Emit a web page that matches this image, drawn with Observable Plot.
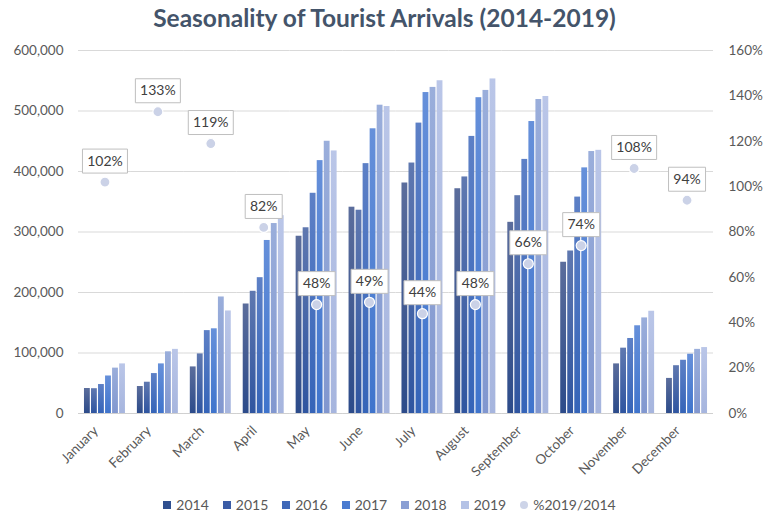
<!DOCTYPE html>
<html>
<head>
<meta charset="utf-8">
<script src="https://cdn.jsdelivr.net/npm/d3@7"></script>
<script src="https://cdn.jsdelivr.net/npm/@observablehq/plot@0.6"></script>
<style>
  body { margin: 0; background: #fff; font-family: Lato, "Open Sans", sans-serif; }
  #wrap { width: 769px; }
  #title { height: 36px; line-height: 36px; text-align: center; font-size: 24.5px; font-weight: bold; color: #44546a; }
  #legend { height: 25px; display: flex; justify-content: center; align-items: center; gap: 14px; font-size: 14px; color: #595959; padding-left: 10px; }
  .item { display: flex; align-items: center; gap: 5px; }
  .sw { width: 8px; height: 8px; display: inline-block; }
  .dotsw { width: 8px; height: 8px; border-radius: 50%; background: #cdd4e8; display: inline-block; }
</style>
</head>
<body>
<div id="wrap">
  <div id="title">Seasonality of Tourist Arrivals (2014-2019)</div>
  <div id="chart"></div>
  <div id="legend"></div>
</div>
<script>
const months = ["January","February","March","April","May","June","July","August","September","October","November","December"];
const years = ["2014","2015","2016","2017","2018","2019"];
const v2014 = [41300, 44600, 77000, 181000, 293000, 341000, 381000, 371500, 316000, 250000, 82000, 58000];
const v2015 = [41000, 51700, 98500, 202000, 307000, 336000, 414000, 391000, 360000, 268600, 108000, 79000];
const v2016 = [47900, 66000, 137000, 224500, 364000, 413000, 480000, 458000, 420000, 357700, 124000, 88000];
const v2017 = [62000, 82000, 140000, 286000, 418000, 470600, 530500, 522000, 482600, 406000, 145000, 98000];
const v2018 = [75000, 102000, 192600, 314000, 450000, 509600, 539000, 534000, 519000, 433000, 158000, 106000];
const v2019 = [82000, 106000, 169500, 327000, 434000, 507400, 550000, 553000, 524000, 435000, 169000, 109000];
const pctChange = [102, 133, 119, 82, 48, 49, 44, 48, 66, 74, 108, 94];
const leftTicks = [0, 100000, 200000, 300000, 400000, 500000, 600000];
const rightTicks = [0, 20, 40, 60, 80, 100, 120, 140, 160];

const series = [v2014, v2015, v2016, v2017, v2018, v2019];
const bars = [];
years.forEach((y, i) => months.forEach((m, j) => bars.push({month: m, year: y, value: series[i][j]})));
const pctData = months.map((m, j) => ({month: m, pct: pctChange[j], label: pctChange[j] + "%"}));

const Y_MAX = 600000, P_MAX = 160;
const toY = p => p * Y_MAX / P_MAX;

const grad = {
  "2014": ["#5b6d9c", "#2c4b8a"],
  "2015": ["#5f78b0", "#2f55a0"],
  "2016": ["#5d80c6", "#3564b8"],
  "2017": ["#6690da", "#3f74cc"],
  "2018": ["#9aaedb", "#8197cf"],
  "2019": ["#bac6e8", "#a6b5de"]
};
const swatch = {"2014":"#2f4f8f","2015":"#3b5ca6","2016":"#3f68b8","2017":"#4a7bd0","2018":"#8a9fd4","2019":"#b4c2e6"};

const boxSym = w => ({draw(ctx) { ctx.rect(-w/2, -12, w, 24); }});

const svg = Plot.plot({
  width: 769,
  height: 456,
  marginLeft: 78,
  marginRight: 56,
  marginTop: 14,
  marginBottom: 79,
  style: {fontFamily: "Lato, 'Open Sans', sans-serif", fontSize: "13.5px", color: "#595959", background: "#fff"},
  fx: {domain: months, padding: 0, round: false},
  x: {domain: years, paddingInner: 0.17, paddingOuter: 0.85, round: false, axis: null},
  y: {domain: [0, Y_MAX]},
  color: {domain: years, range: years.map(y => `url(#g${y})`)},
  marks: [
    Plot.gridY(leftTicks, {stroke: "#d9d9d9", strokeOpacity: 1}),
    Plot.ruleY([0], {stroke: "#d0d0d0"}),
    Plot.barY(bars, {fx: "month", x: "year", y: "value", fill: "year"}),
    Plot.dot(pctData, {fx: "month", y: d => toY(d.pct), r: 5, fill: "#cbd2e7", stroke: "#fff", strokeWidth: 1.2}),
    Plot.dot(pctData.filter(d => d.label.length > 3), {fx: "month", y: d => toY(d.pct), dy: -21, symbol: boxSym(45), fill: "#fff", stroke: "#bfbfbf", strokeWidth: 1}),
    Plot.dot(pctData.filter(d => d.label.length <= 3), {fx: "month", y: d => toY(d.pct), dy: -21, symbol: boxSym(37), fill: "#fff", stroke: "#bfbfbf", strokeWidth: 1}),
    Plot.text(pctData, {fx: "month", y: d => toY(d.pct), dy: -21, text: "label", fill: "#404040", fontSize: 14}),
    Plot.axisY(leftTicks, {anchor: "left", tickSize: 0, tickPadding: 15, tickFormat: d3.format(","), label: null}),
    Plot.axisY(rightTicks.map(toY), {anchor: "right", tickSize: 0, tickPadding: 15, tickFormat: d => Math.round(d * P_MAX / Y_MAX) + "%", label: null}),
    Plot.axisFx({anchor: "bottom", tickRotate: -45, tickSize: 0, tickPadding: 15, dx: -9, label: null})
  ]
});

const defs = d3.select(svg).insert("defs", ":first-child");
years.forEach(y => {
  const g = defs.append("linearGradient").attr("id", "g" + y).attr("x1", 0).attr("y1", 0).attr("x2", 0).attr("y2", 1);
  g.append("stop").attr("offset", "0%").attr("stop-color", grad[y][0]);
  g.append("stop").attr("offset", "100%").attr("stop-color", grad[y][1]);
});

document.getElementById("chart").appendChild(svg);

const legend = document.getElementById("legend");
years.forEach(y => {
  const it = document.createElement("div"); it.className = "item";
  const s = document.createElement("span"); s.className = "sw"; s.style.background = swatch[y];
  const t = document.createElement("span"); t.textContent = y;
  it.appendChild(s); it.appendChild(t); legend.appendChild(it);
});
{
  const it = document.createElement("div"); it.className = "item";
  const s = document.createElement("span"); s.className = "dotsw";
  const t = document.createElement("span"); t.textContent = "%2019/2014";
  it.appendChild(s); it.appendChild(t); legend.appendChild(it);
}
</script>
</body>
</html>
